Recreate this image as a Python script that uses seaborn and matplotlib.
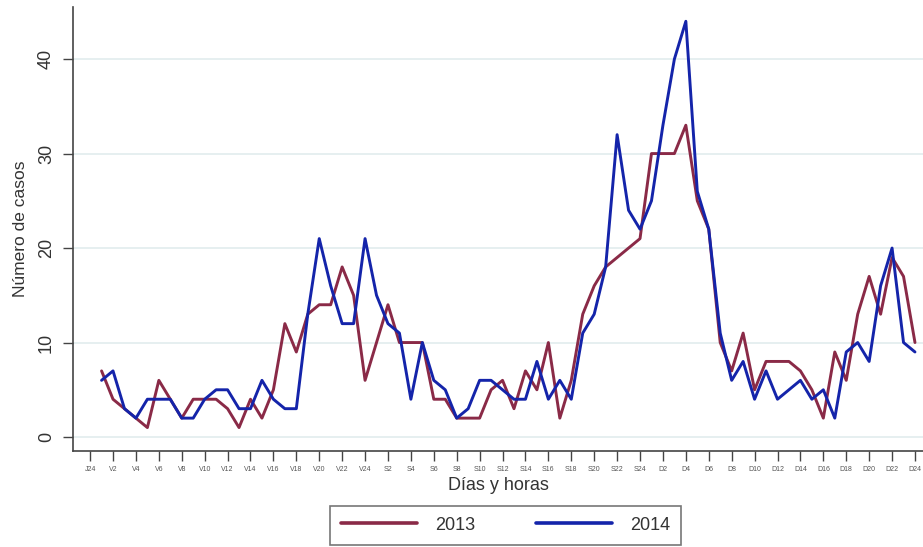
import pandas as pd
import seaborn as sns
import matplotlib.pyplot as plt

# --- Datos: casos por hora (V1 ... D24) ---
casos_2013 = [7, 4, 3, 2, 1, 6, 4, 2, 4, 4, 4, 3, 1, 4, 2, 5, 12, 9, 13, 14, 14, 18, 15, 6,
              10, 14, 10, 10, 10, 4, 4, 2, 2, 2, 5, 6, 3, 7, 5, 10, 2, 6, 13, 16, 18, 19, 20, 21,
              30, 30, 30, 33, 25, 22, 10, 7, 11, 5, 8, 8, 8, 7, 5, 2, 9, 6, 13, 17, 13, 19, 17, 10]
casos_2014 = [6, 7, 3, 2, 4, 4, 4, 2, 2, 4, 5, 5, 3, 3, 6, 4, 3, 3, 13, 21, 16, 12, 12, 21,
              15, 12, 11, 4, 10, 6, 5, 2, 3, 6, 6, 5, 4, 4, 8, 4, 6, 4, 11, 13, 18, 32, 24, 22,
              25, 33, 40, 44, 26, 22, 11, 6, 8, 4, 7, 4, 5, 6, 4, 5, 2, 9, 10, 8, 16, 20, 10, 9]
horas = list(range(1, len(casos_2013) + 1))

etiquetas_x = (['J24'] + ['V%d' % h for h in range(2, 25, 2)]
               + ['S%d' % h for h in range(2, 25, 2)]
               + ['D%d' % h for h in range(2, 25, 2)])
ticks_y = [0, 10, 20, 30, 40]

df = pd.concat([
    pd.DataFrame({'hora': horas, 'casos': casos_2013, 'anio': '2013'}),
    pd.DataFrame({'hora': horas, 'casos': casos_2014, 'anio': '2014'}),
])

sns.set_style('white')
plt.rcParams['font.family'] = ['Liberation Sans', 'DejaVu Sans']

colores = {'2013': '#8a2a47', '2014': '#1424aa'}

fig = plt.figure(figsize=(9.23, 5.47), dpi=100)
ax = fig.add_axes([0.079, 0.176, 0.921, 0.811])

sns.lineplot(data=df, x='hora', y='casos', hue='anio', palette=colores,
             linewidth=2.1, ax=ax, legend=False)

# rejilla horizontal suave
for v in ticks_y:
    ax.axhline(v, color='#e6eff0', linewidth=1.4, zorder=0)

ax.set_xlim(-1.5, 72.7)
ax.set_ylim(-1.45, 45.5)
ax.set_xticks(range(0, 73, 2))
ax.set_xticklabels(etiquetas_x, fontsize=5, color='#555555')
ax.set_yticks(ticks_y)
ax.set_yticklabels([str(v) for v in ticks_y], fontsize=13, color='#333333',
                   rotation=90, va='center')
ax.tick_params(axis='both', direction='out', length=7, width=1, color='#444444',
               left=True, bottom=True)
ax.tick_params(axis='x', pad=4)
ax.tick_params(axis='y', pad=6)

for lado in ['top', 'right']:
    ax.spines[lado].set_visible(False)
for lado in ['left', 'bottom']:
    ax.spines[lado].set_color('#444444')
    ax.spines[lado].set_linewidth(1.2)

ax.set_xlabel('Días y horas', fontsize=13, color='#333333', labelpad=3)
ax.set_ylabel('Número de casos', fontsize=12.5, color='#333333', labelpad=7)

lineas = [plt.Line2D([], [], color=colores[k], linewidth=2.6) for k in colores]
leg = fig.legend(lineas, list(colores.keys()), loc='lower center',
                 bbox_to_anchor=(0.548, -0.012), ncol=2, fontsize=13,
                 handlelength=4.2, columnspacing=3.4, handletextpad=1.0,
                 frameon=True, fancybox=False, edgecolor='#555555',
                 borderpad=0.6)
leg.get_frame().set_linewidth(1.2)
for t in leg.get_texts():
    t.set_color('#333333')

plt.savefig('out.png', dpi=100)
